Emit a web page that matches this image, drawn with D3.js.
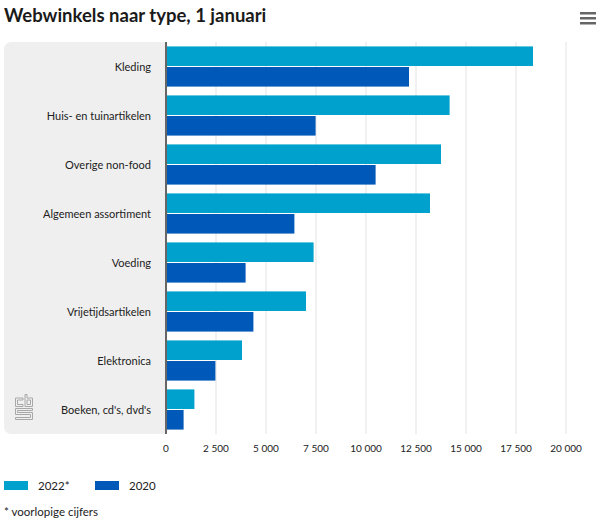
<!DOCTYPE html>
<html>
<head>
<meta charset="utf-8">
<script src="https://cdn.jsdelivr.net/npm/d3@7"></script>
<style>
  body { margin: 0; background: #fff; }
  text { font-family: Lato, "Noto Sans", sans-serif; }
</style>
</head>
<body>
<script>
// Data
var categories = ['Kleding', 'Huis- en tuinartikelen', 'Overige non-food',
  'Algemeen assortiment', 'Voeding', 'Vrijetijdsartikelen', 'Elektronica',
  "Boeken, cd's, dvd's"];
var series = ['2022*', '2020'];
var values2022 = [18350, 14180, 13750, 13200, 7380, 7000, 3800, 1420];
var values2020 = [12150, 7480, 10480, 6420, 3980, 4370, 2470, 880];
var xTicks = [0, 2500, 5000, 7500, 10000, 12500, 15000, 17500, 20000];
var colors = ['#00a1cd', '#0058b8'];

var width = 600,
  height = 521;

var svg = d3.select('body')
  .append('svg')
  .attr('width', width)
  .attr('height', height);

var plot = { left: 166, right: 566, top: 42, bottom: 434 };

// Title
svg.append('text')
  .attr('x', 4)
  .attr('y', 22)
  .attr('font-size', 18.5)
  .attr('font-weight', 'bold')
  .attr('fill', '#1a1a1a')
  .text('Webwinkels naar type, 1 januari');

// Menu icon
svg.append('g')
  .selectAll('rect')
  .data([0, 1, 2])
  .enter()
  .append('rect')
  .attr('x', 580)
  .attr('y', function(d) { return 12 + d * 5; })
  .attr('width', 16)
  .attr('height', 2.5)
  .attr('fill', '#666');

// Grey label panel
svg.append('path')
  .attr('d', 'M166,42 L12,42 Q4,42 4,50 L4,426 Q4,434 12,434 L166,434 Z')
  .attr('fill', '#efefef');

// Scales
var x = d3.scaleLinear()
  .domain([0, 20000])
  .range([plot.left, plot.right]);

var y = d3.scaleBand()
  .domain(categories)
  .range([plot.top, plot.bottom])
  .paddingInner(0.18)
  .paddingOuter(0.09);

var ySub = d3.scaleBand()
  .domain(series)
  .range([0, y.bandwidth()])
  .paddingInner(0.05);

// Gridlines
svg.append('g')
  .selectAll('line')
  .data(xTicks.slice(1))
  .enter()
  .append('line')
  .attr('x1', function(d) { return x(d); })
  .attr('x2', function(d) { return x(d); })
  .attr('y1', plot.top)
  .attr('y2', plot.bottom)
  .attr('stroke', '#e3e3e3')
  .attr('stroke-width', 1);

// Bars
var rows = categories.map(function(c, i) {
  return { cat: c, vals: [values2022[i], values2020[i]] };
});

var groups = svg.append('g')
  .selectAll('g')
  .data(rows)
  .enter()
  .append('g')
  .attr('transform', function(d) { return 'translate(0,' + y(d.cat) + ')'; });

groups.selectAll('rect')
  .data(function(d) { return d.vals.map(function(v, j) { return { s: series[j], v: v, j: j }; }); })
  .enter()
  .append('rect')
  .attr('x', x(0))
  .attr('y', function(d) { return ySub(d.s); })
  .attr('width', function(d) { return x(d.v) - x(0); })
  .attr('height', ySub.bandwidth())
  .attr('fill', function(d) { return colors[d.j]; });

// Category labels
svg.append('g')
  .selectAll('text')
  .data(categories)
  .enter()
  .append('text')
  .attr('x', 151)
  .attr('y', function(d) { return y(d) + y.bandwidth() / 2 + 1; })
  .attr('dy', '0.35em')
  .attr('text-anchor', 'end')
  .attr('font-size', 11)
  .attr('fill', '#222')
  .text(function(d) { return d; });

// Axis line
svg.append('line')
  .attr('x1', plot.left)
  .attr('x2', plot.left)
  .attr('y1', plot.top)
  .attr('y2', plot.bottom)
  .attr('stroke', '#666')
  .attr('stroke-width', 2);

// X tick labels
var fmt = function(d) {
  return d3.format(',')(d).replace(/,/g, '\u00a0');
};
svg.append('g')
  .selectAll('text')
  .data(xTicks)
  .enter()
  .append('text')
  .attr('x', function(d) { return x(d); })
  .attr('y', 452)
  .attr('text-anchor', 'middle')
  .attr('font-size', 10)
  .attr('fill', '#222')
  .text(fmt);

// CBS logo (rough outline letters)
var logo = svg.append('g')
  .attr('transform', 'translate(15,394)')
  .attr('fill', 'none')
  .attr('stroke', '#a8a8a8')
  .attr('stroke-width', 1);
// c
logo.append('path').attr('d', 'M8,4 L0.5,4 L0.5,12.5 L8,12.5 L8,10.5 L2.5,10.5 L2.5,6 L8,6 Z');
// b
logo.append('path').attr('d', 'M10,0.5 L12,0.5 L12,4 L17.5,4 L17.5,12.5 L10,12.5 Z M12,6 L15.5,6 L15.5,10.5 L12,10.5 Z');
// S
logo.append('path').attr('d', 'M0.5,14.5 L17.5,14.5 L17.5,16.5 L2.5,16.5 L2.5,18.5 L17.5,18.5 L17.5,25.5 L0.5,25.5 L0.5,23.5 L15.5,23.5 L15.5,20.5 L0.5,20.5 Z');

// Legend
var legend = svg.append('g')
  .selectAll('g')
  .data(series)
  .enter()
  .append('g')
  .attr('transform', function(d, i) { return 'translate(' + (4 + i * 91) + ',481)'; });

legend.append('rect')
  .attr('width', 24)
  .attr('height', 9)
  .attr('fill', function(d, i) { return colors[i]; });

legend.append('text')
  .attr('x', 34)
  .attr('y', 4.5)
  .attr('dy', '0.35em')
  .attr('font-size', 11.5)
  .attr('fill', '#222')
  .text(function(d) { return d; });

// Footnote
svg.append('text')
  .attr('x', 4)
  .attr('y', 516)
  .attr('font-size', 11.5)
  .attr('fill', '#222')
  .text('* voorlopige cijfers');
</script>
</body>
</html>
